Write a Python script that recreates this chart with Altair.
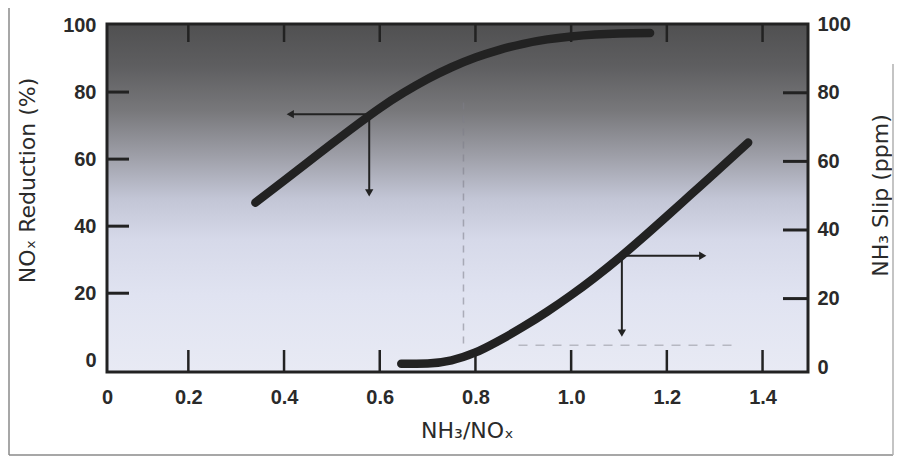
import altair as alt
import pandas as pd

# ---------------- data ----------------
# NOx reduction curve (left axis, %)
nox_x = [0.34, 0.40, 0.45, 0.50, 0.55, 0.60, 0.65, 0.70, 0.75, 0.80, 0.85, 0.90, 0.95, 1.00, 1.05, 1.10, 1.165]
nox_y = [47.0, 53.6, 59.1, 64.6, 70.0, 75.2, 79.8, 83.9, 87.4, 90.3, 92.6, 94.4, 95.7, 96.6, 97.2, 97.5, 97.6]

# NH3 slip curve (right axis, ppm)
slip_x = [0.645, 0.70, 0.75, 0.80, 0.85, 0.90, 0.95, 1.00, 1.05, 1.10, 1.15, 1.20, 1.25, 1.30, 1.37]
slip_y = [1.0, 1.1, 2.0, 4.3, 7.8, 11.8, 16.2, 21.0, 26.2, 31.8, 37.8, 44.0, 50.3, 56.6, 65.5]

# arrows: origin on curve, horizontal end x, vertical end y
nox_arrow = {"x": 0.578, "y": 73.4, "xh": 0.413, "yv": 49.9}
slip_arrow = {"x": 1.106, "y": 32.5, "xh": 1.275, "yv": 9.9}

x_tick_vals = [0.2, 0.4, 0.6, 0.8, 1.0, 1.2, 1.4]
x_label_vals = [0.03, 0.2, 0.4, 0.6, 0.8, 1.0, 1.2, 1.4]
y_label_vals = [0, 20, 40, 60, 80, 100]
y_tick_vals = [20, 40, 60, 80]

# faint scan guide lines
guide_v = {"x": 0.775, "y1": 5, "y2": 77}
guide_h = {"y": 6.4, "x1": 0.89, "x2": 1.34}

# ---------------- layout ----------------
W, H = 701, 348
LFONT = "Liberation Sans"
TFONT = "DejaVu Sans"
INK = "#222222"
TXT = "#2a2a2a"

xs = alt.Scale(domain=[0.03, 1.495], nice=False, zero=False)
yl = alt.Scale(domain=[-3.5, 100.3], nice=False, zero=False)
yr = alt.Scale(domain=[-1.4, 100.05], nice=False, zero=False)

one = pd.DataFrame({"k": [0]})
nox_df = pd.DataFrame({"x": nox_x, "y": nox_y})
slip_df = pd.DataFrame({"x": slip_x, "y": slip_y})
xt_df = pd.DataFrame({"v": x_tick_vals})
yt_df = pd.DataFrame({"v": y_tick_vals})

common = dict(
    tickSize=0, domain=False, grid=False, labelFlush=False,
    labelFont=LFONT, labelFontSize=20, labelFontWeight="bold", labelColor=TXT,
    titleFont=TFONT, titleFontSize=22, titleFontWeight="normal", titleColor=TXT,
    titleAlign="center", titleBaseline="middle",
)

x_axis = alt.Axis(
    values=x_label_vals,
    labelExpr="datum.value < 0.1 ? '0' : format(datum.value, '.1f')",
    title="NH₃/NOₓ", labelPadding=15, titleX=360, titleY=58, **common,
)
left_axis = alt.Axis(
    orient="left", values=y_label_vals, title="NOₓ Reduction (%)",
    labelPadding=11, titleAngle=270, titleX=-80, titleY=156, **common,
)
right_axis = alt.Axis(
    orient="right", values=y_label_vals, title="NH₃ Slip (ppm)",
    labelPadding=9, titleAngle=270, titleX=72, titleY=171, **common,
)


def X(field):
    return alt.X(field, type="quantitative", scale=xs, axis=x_axis)


def YL(field):
    return alt.Y(field, type="quantitative", scale=yl, axis=left_axis)


def YR(field):
    return alt.Y(field, type="quantitative", scale=yr, axis=right_axis)


grad = alt.LinearGradient(
    gradient="linear", x1=0, x2=0, y1=0, y2=1,
    stops=[
        alt.GradientStop(color="#505051", offset=0.0),
        alt.GradientStop(color="#5e5e60", offset=0.12),
        alt.GradientStop(color="#78787b", offset=0.25),
        alt.GradientStop(color="#9e9fa8", offset=0.38),
        alt.GradientStop(color="#c2c5d5", offset=0.5),
        alt.GradientStop(color="#d6d9e9", offset=0.62),
        alt.GradientStop(color="#e0e3f1", offset=0.78),
        alt.GradientStop(color="#e8eaf4", offset=1.0),
    ],
)

bg = alt.Chart(one).mark_rect(color=grad).encode(
    x=alt.value(0), x2=alt.value(W), y=alt.value(0), y2=alt.value(H)
)

# ---------- left group (NOx reduction) ----------
gv = alt.Chart(pd.DataFrame([guide_v])).mark_rule(
    color="#7d7e88", strokeWidth=1.5, strokeDash=[7, 6], opacity=0.55
).encode(x=X("x"), y=YL("y1"), y2="y2:Q")

nox_line = alt.Chart(nox_df).mark_line(
    color=INK, strokeWidth=8.5, strokeCap="round", interpolate="monotone"
).encode(x=X("x"), y=YL("y"))

na = pd.DataFrame([nox_arrow])
nox_h = alt.Chart(na).mark_rule(color=INK, strokeWidth=2).encode(x=X("x"), x2="xh:Q", y=YL("y"))
nox_v = alt.Chart(na).mark_rule(color=INK, strokeWidth=2).encode(x=X("x"), y=YL("y"), y2="yv:Q")
nox_hh = alt.Chart(na).mark_point(shape="triangle-left", filled=True, color=INK, size=70, opacity=1).encode(
    x=X("xh"), y=YL("y"))
nox_vh = alt.Chart(na).mark_point(shape="triangle-down", filled=True, color=INK, size=70, opacity=1).encode(
    x=X("x"), y=YL("yv"))

left_ticks = alt.Chart(yt_df).mark_rule(color=INK, strokeWidth=3).encode(
    y=YL("v"), x=alt.value(0), x2=alt.value(22))
bottom_ticks = alt.Chart(xt_df).mark_rule(color=INK, strokeWidth=2.5).encode(
    x=X("v"), y=alt.value(H), y2=alt.value(H - 22))
top_ticks = alt.Chart(xt_df).mark_rule(color=INK, strokeWidth=2.5).encode(
    x=X("v"), y=alt.value(0), y2=alt.value(18))

left_group = alt.layer(bg, gv, left_ticks, bottom_ticks, top_ticks, nox_h, nox_v, nox_hh, nox_vh, nox_line)

# ---------- right group (NH3 slip) ----------
gh = alt.Chart(pd.DataFrame([guide_h])).mark_rule(
    color="#7d7e88", strokeWidth=1.5, strokeDash=[9, 8], opacity=0.45
).encode(x=X("x1"), x2="x2:Q", y=YR("y"))

slip_line = alt.Chart(slip_df).mark_line(
    color=INK, strokeWidth=8.5, strokeCap="round", interpolate="monotone"
).encode(x=X("x"), y=YR("y"))

sa = pd.DataFrame([slip_arrow])
slip_h = alt.Chart(sa).mark_rule(color=INK, strokeWidth=2).encode(x=X("x"), x2="xh:Q", y=YR("y"))
slip_v = alt.Chart(sa).mark_rule(color=INK, strokeWidth=2).encode(x=X("x"), y=YR("y"), y2="yv:Q")
slip_hh = alt.Chart(sa).mark_point(shape="triangle-right", filled=True, color=INK, size=70, opacity=1).encode(
    x=X("xh"), y=YR("y"))
slip_vh = alt.Chart(sa).mark_point(shape="triangle-down", filled=True, color=INK, size=70, opacity=1).encode(
    x=X("x"), y=YR("yv"))

right_ticks = alt.Chart(yt_df).mark_rule(color=INK, strokeWidth=3).encode(
    y=YR("v"), x=alt.value(W - 25), x2=alt.value(W))

frame = alt.Chart(one).mark_rect(fillOpacity=0, stroke=INK, strokeWidth=3).encode(
    x=alt.value(0), x2=alt.value(W), y=alt.value(0), y2=alt.value(H)
)
border_left = alt.Chart(one).mark_rule(color="#8a8a8a", strokeWidth=1.5).encode(
    x=alt.value(-98), y=alt.value(-16), y2=alt.value(H + 83)
)
border_bottom = alt.Chart(one).mark_rule(color="#8a8a8a", strokeWidth=1.5).encode(
    x=alt.value(-98), x2=alt.value(W + 85), y=alt.value(H + 83)
)
border_right = alt.Chart(one).mark_rule(color="#b0b0b0", strokeWidth=1.5).encode(
    x=alt.value(W + 85), y=alt.value(40), y2=alt.value(H + 83)
)

right_group = alt.layer(gh, right_ticks, slip_h, slip_v, slip_hh, slip_vh, slip_line,
                        frame, border_left, border_bottom, border_right)

chart = alt.layer(left_group, right_group).resolve_scale(y="independent").properties(
    width=W, height=H,
    autosize=alt.AutoSizeParams(type="none"),
    padding={"left": 99, "top": 16, "right": 87, "bottom": 86},
    background="white",
).configure_view(stroke=None)

chart.save("out.html", embed_options={"renderer": "svg", "actions": False})
